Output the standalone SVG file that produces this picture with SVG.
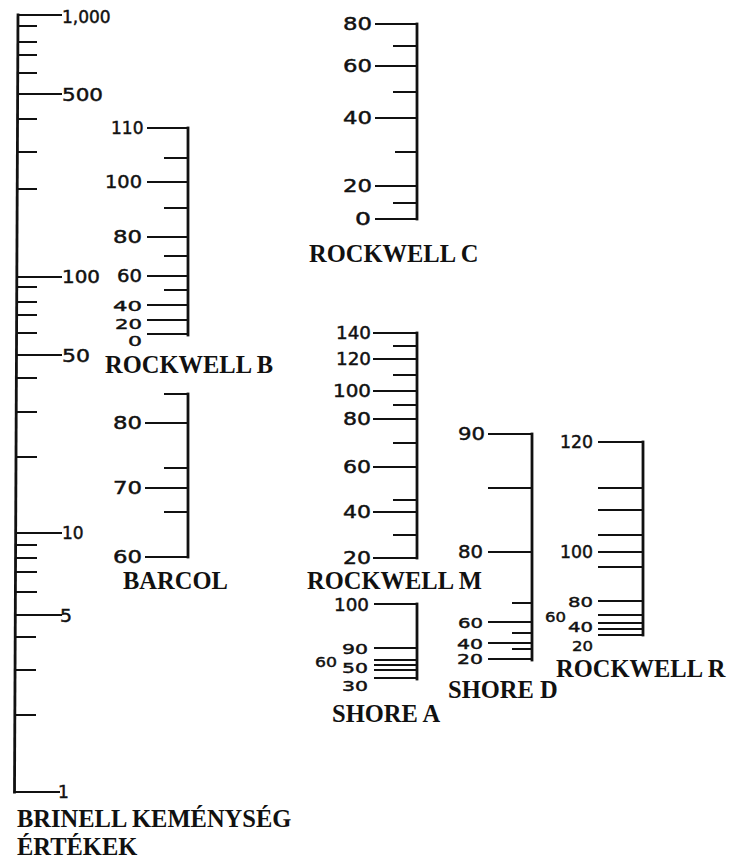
<svg xmlns="http://www.w3.org/2000/svg" width="729" height="861" viewBox="0 0 729 861">
<style>
.bg{fill:#ffffff}
.axis{fill:none;stroke:#111;stroke-width:2.8;stroke-linecap:square}
.tick{fill:none;stroke:#111;stroke-width:2.2}
.num{font-family:"DejaVu Sans","Liberation Sans",sans-serif;font-size:17px;fill:#111;stroke:#111;stroke-width:0.45}
.sm{font-size:14.5px}
.ttl{font-family:"Liberation Serif","Times New Roman",serif;font-size:24.5px;font-weight:bold;fill:#111}
</style>
<rect class="bg" x="0" y="0" width="729" height="861"/>
<g id="brinell">
<path class="tick" d="M18 15H62M17.6 94H62M16.8 277H62M16.5 355H62M15.7 533H62M15.4 615H62M14.5 792H60"/>
<path class="tick" d="M18 26H37M18 42H37M17.9 55H37M17.8 73H37M17.6 119H37M17.5 152H37M17.4 189H37M16.8 287H37M16.7 302H37M16.7 315H37M16.6 333H37M16.4 378H37M16.3 412H37M16.1 457H37M15.7 545H37M15.6 558H37M15.6 572H37M15.5 592H37M15.3 637H36M15.2 670H36M15 715H36"/>
<path class="axis" d="M18 15L14.5 792"/>
<text class="num" x="62" y="22.7">1,000</text>
<text class="num" x="62" y="101.2" textLength="41" lengthAdjust="spacingAndGlyphs">500</text>
<text class="num" x="62" y="283.2" textLength="38" lengthAdjust="spacingAndGlyphs">100</text>
<text class="num" x="62" y="362.2" textLength="28" lengthAdjust="spacingAndGlyphs">50</text>
<text class="num" x="62" y="539.2">10</text>
<text class="num" x="60" y="622.2" textLength="12" lengthAdjust="spacingAndGlyphs">5</text>
<text class="num" x="58" y="798.2">1</text>
<text class="ttl" x="17" y="827">BRINELL KEMÉNYSÉG</text>
<text class="ttl" x="17" y="855">ÉRTÉKEK</text>
</g>
<g id="rockwell-b">
<path class="tick" d="M147 128H188M147 182H188M147 237H188M147 276H188M147 305H188M147 320H188M147 334H188"/>
<path class="tick" d="M164 158H188M164 208H188M164 256H188M164 290H188"/>
<path class="axis" d="M188 128V335"/>
<text class="num" x="111" y="134.2">110</text>
<text class="num" x="105" y="188.2" textLength="37" lengthAdjust="spacingAndGlyphs">100</text>
<text class="num" x="113" y="243.2" textLength="29" lengthAdjust="spacingAndGlyphs">80</text>
<text class="num" x="117" y="282.2" textLength="25" lengthAdjust="spacingAndGlyphs">60</text>
<text class="num sm" x="113" y="310.5" textLength="29" lengthAdjust="spacingAndGlyphs">40</text>
<text class="num sm" x="115" y="328.5" textLength="27" lengthAdjust="spacingAndGlyphs">20</text>
<text class="num sm" x="128" y="345.5" textLength="14" lengthAdjust="spacingAndGlyphs">0</text>
<text class="ttl" x="105" y="373">ROCKWELL B</text>
</g>
<g id="barcol">
<path class="tick" d="M145 423H188M145 488H188M145 557H188"/>
<path class="tick" d="M164 394H188M164 468H188M164 512H188"/>
<path class="axis" d="M188 394V557"/>
<text class="num" x="113" y="429.2" textLength="29" lengthAdjust="spacingAndGlyphs">80</text>
<text class="num" x="113" y="494.2" textLength="29" lengthAdjust="spacingAndGlyphs">70</text>
<text class="num" x="113" y="563.2" textLength="29" lengthAdjust="spacingAndGlyphs">60</text>
<text class="ttl" x="123" y="589">BARCOL</text>
</g>
<g id="rockwell-c">
<path class="tick" d="M375 24H417M375 66H417M375 118H417M375 186H417M375 219H417"/>
<path class="tick" d="M393 46H417M393 92H417M395 152H417M393 203H417"/>
<path class="axis" d="M417 24V219"/>
<text class="num" x="343" y="30.2" textLength="29" lengthAdjust="spacingAndGlyphs">80</text>
<text class="num" x="343" y="72.2" textLength="29" lengthAdjust="spacingAndGlyphs">60</text>
<text class="num" x="343" y="124.2" textLength="29" lengthAdjust="spacingAndGlyphs">40</text>
<text class="num" x="343" y="192.2" textLength="29" lengthAdjust="spacingAndGlyphs">20</text>
<text class="num" x="355" y="225.2" textLength="16" lengthAdjust="spacingAndGlyphs">0</text>
<text class="ttl" x="309" y="262">ROCKWELL C</text>
</g>
<g id="rockwell-m">
<path class="tick" d="M373 333H417M373 359H417M373 391H417M373 419H417M373 467H417M373 512H417M373 558H417"/>
<path class="tick" d="M393 346H417M393 375H417M393 405H417M393 443H417M393 500H417M393 535H417"/>
<path class="axis" d="M417 333V558"/>
<text class="num" x="336" y="339.2" textLength="35" lengthAdjust="spacingAndGlyphs">140</text>
<text class="num" x="336" y="365.2" textLength="35" lengthAdjust="spacingAndGlyphs">120</text>
<text class="num" x="333" y="397.2" textLength="38" lengthAdjust="spacingAndGlyphs">100</text>
<text class="num" x="343" y="425.2" textLength="28" lengthAdjust="spacingAndGlyphs">80</text>
<text class="num" x="343" y="473.2" textLength="28" lengthAdjust="spacingAndGlyphs">60</text>
<text class="num" x="343" y="518.2" textLength="28" lengthAdjust="spacingAndGlyphs">40</text>
<text class="num" x="343" y="564.2" textLength="28" lengthAdjust="spacingAndGlyphs">20</text>
<text class="ttl" x="307" y="589">ROCKWELL M</text>
</g>
<g id="shore-a">
<path class="tick" d="M374 604H417M374 648H417M374 660H417M374 665H417M374 670H417M374 678H417"/>
<path class="axis" d="M417 604V679"/>
<text class="num" x="334" y="611.2" textLength="35" lengthAdjust="spacingAndGlyphs">100</text>
<text class="num sm" x="342" y="654" textLength="26" lengthAdjust="spacingAndGlyphs">90</text>
<text class="num sm" x="315" y="666.5" textLength="22" lengthAdjust="spacingAndGlyphs">60</text>
<text class="num sm" x="342" y="673" textLength="26" lengthAdjust="spacingAndGlyphs">50</text>
<text class="num sm" x="342" y="691" textLength="26" lengthAdjust="spacingAndGlyphs">30</text>
<text class="ttl" x="332" y="722">SHORE A</text>
</g>
<g id="shore-d">
<path class="tick" d="M488 434H532M488 488H532M488 552H532M488 622H532M488 643H532M488 659H532"/>
<path class="tick" d="M512 603H532M512 633H532M512 649H532"/>
<path class="axis" d="M532 434V660"/>
<text class="num" x="458" y="440.2" textLength="27" lengthAdjust="spacingAndGlyphs">90</text>
<text class="num" x="458" y="558.2" textLength="25" lengthAdjust="spacingAndGlyphs">80</text>
<text class="num sm" x="458" y="627.5" textLength="25" lengthAdjust="spacingAndGlyphs">60</text>
<text class="num sm" x="457" y="648.5" textLength="26" lengthAdjust="spacingAndGlyphs">40</text>
<text class="num sm" x="457" y="663.5" textLength="26" lengthAdjust="spacingAndGlyphs">20</text>
<text class="ttl" x="448" y="698">SHORE D</text>
</g>
<g id="rockwell-r">
<path class="tick" d="M598 442H643M598 488H643M598 510H643M598 535H643M598 552H643M598 567H643M598 601H643M598 615H643M598 623H643M598 629H643M598 635H643"/>
<path class="axis" d="M643 442V635"/>
<text class="num" x="560" y="448.2" textLength="33" lengthAdjust="spacingAndGlyphs">120</text>
<text class="num" x="560" y="558.2" textLength="33" lengthAdjust="spacingAndGlyphs">100</text>
<text class="num sm" x="568" y="606.5" textLength="25" lengthAdjust="spacingAndGlyphs">80</text>
<text class="num sm" x="545" y="621.5" textLength="21" lengthAdjust="spacingAndGlyphs">60</text>
<text class="num sm" x="568" y="631.5" textLength="25" lengthAdjust="spacingAndGlyphs">40</text>
<text class="num sm" x="572" y="650.5" textLength="21" lengthAdjust="spacingAndGlyphs">20</text>
<text class="ttl" x="556" y="677">ROCKWELL R</text>
</g>
</svg>
